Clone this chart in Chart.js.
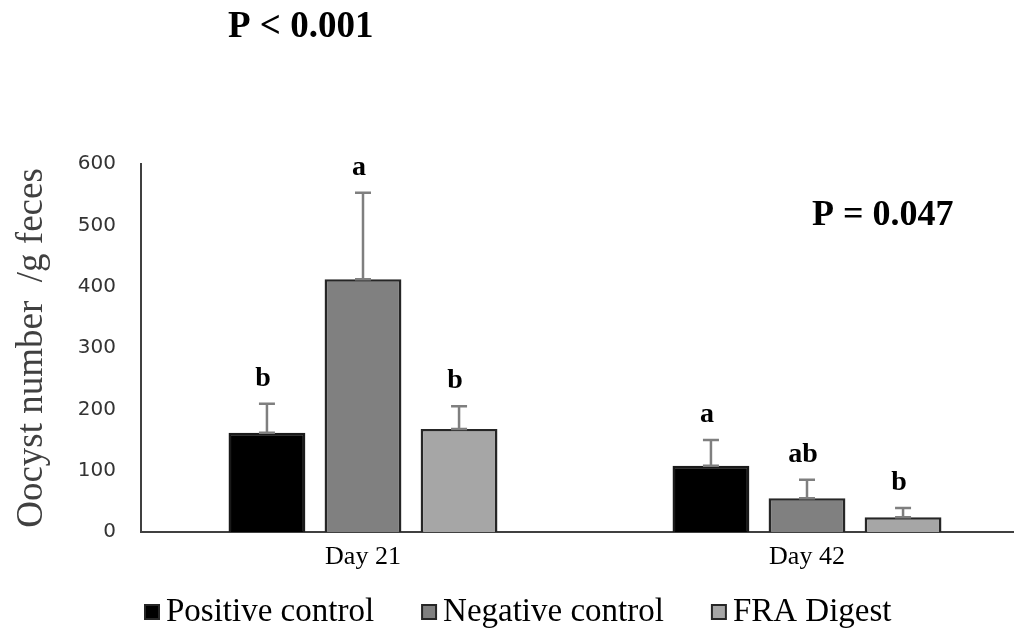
<!DOCTYPE html>
<html>
<head>
<meta charset="utf-8">
<script src="https://cdn.jsdelivr.net/npm/chart.js@4.4.1/dist/chart.umd.min.js"></script>
<style>
  html, body { margin: 0; padding: 0; overflow: hidden; background: #fff; }
  #wrap { width: 1029px; height: 628px; position: relative; }
</style>
</head>
<body>
<div id="wrap"><canvas id="grafica"></canvas></div>
<script>
// datos
const dias = ['Day 21', 'Day 42'];
const positivo = [162, 108];
const negativo = [412, 55];
const fra = [168, 24];
const errPositivo = [47, 42];
const errNegativo = [141, 30];
const errFra = [37, 15];
const letrasPositivo = ['b', 'a'];
const letrasNegativo = ['a', 'ab'];
const letrasFra = ['b', 'b'];
const yTicks = [0, 100, 200, 300, 400, 500, 600];

const errores = [errPositivo, errNegativo, errFra];
const letras = [letrasPositivo, letrasNegativo, letrasFra];

// barras de error + letras de significancia
const erroresPlugin = {
    id: 'errores',
    afterDatasetsDraw(chart) {
        const ctx = chart.ctx;
        const yScale = chart.scales.y;
        ctx.save();
        chart.data.datasets.forEach((ds, i) => {
            const meta = chart.getDatasetMeta(i);
            meta.data.forEach((bar, j) => {
                const v = ds.data[j];
                const yv = yScale.getPixelForValue(v);
                const yt = yScale.getPixelForValue(v + errores[i][j]);
                ctx.strokeStyle = '#7f7f7f';
                ctx.lineWidth = 2.5;
                ctx.beginPath();
                ctx.moveTo(bar.x, yv);
                ctx.lineTo(bar.x, yt);
                ctx.moveTo(bar.x - 8, yt);
                ctx.lineTo(bar.x + 8, yt);
                ctx.moveTo(bar.x - 8, yv);
                ctx.lineTo(bar.x + 8, yv);
                ctx.stroke();

                ctx.fillStyle = '#000';
                ctx.font = 'bold 28px "Liberation Serif"';
                ctx.textAlign = 'center';
                ctx.textBaseline = 'alphabetic';
                ctx.fillText(letras[i][j], bar.x - 4, yt - 18);
            });
        });
        ctx.restore();
    }
};

// textos de P y leyenda abajo
const textosPlugin = {
    id: 'textos',
    afterDraw(chart) {
        const ctx = chart.ctx;
        ctx.save();
        ctx.fillStyle = '#000';
        ctx.textAlign = 'left';
        ctx.textBaseline = 'alphabetic';
        ctx.font = 'bold 37px "Liberation Serif"';
        ctx.fillText('P < 0.001', 228, 37);
        ctx.font = 'bold 36px "Liberation Serif"';
        ctx.fillText('P = 0.047', 812, 225);

        // leyenda
        ctx.font = '33px "Liberation Serif"';
        ctx.textBaseline = 'middle';
        let x = 145;
        const y = 612;
        chart.data.datasets.forEach(ds => {
            ctx.fillStyle = ds.backgroundColor;
            ctx.fillRect(x, y - 7, 14, 14);
            ctx.strokeStyle = '#262626';
            ctx.lineWidth = 2;
            ctx.strokeRect(x, y - 7, 14, 14);
            ctx.fillStyle = '#000';
            ctx.fillText(ds.label, x + 21, y);
            x += 21 + ctx.measureText(ds.label).width + 48;
        });
        ctx.restore();
    }
};

const ctx = document.getElementById('grafica').getContext('2d');
new Chart(ctx, {
    type: 'bar',
    data: {
        labels: dias,
        datasets: [
            { label: 'Positive control', data: positivo, backgroundColor: '#000000', borderColor: '#1a1a1a', borderWidth: 2.5 },
            { label: 'Negative control', data: negativo, backgroundColor: '#808080', borderColor: '#262626', borderWidth: 2.5 },
            { label: 'FRA Digest', data: fra, backgroundColor: '#a6a6a6', borderColor: '#262626', borderWidth: 2.5 }
        ]
    },
    options: {
        responsive: true,
        maintainAspectRatio: false,
        animation: false,
        categoryPercentage: 0.649,
        barPercentage: 0.8,
        layout: { padding: { top: 164, left: 10, right: 0, bottom: 50 } },
        plugins: {
            legend: { display: false },
            tooltip: { enabled: false }
        },
        scales: {
            x: {
                grid: { display: false, drawTicks: false },
                border: { color: '#404040', width: 2 },
                ticks: { color: '#000', font: { family: 'Liberation Serif', size: 26 }, padding: 10 },
                afterFit(scale) { scale.height = 46; }
            },
            y: {
                min: 0,
                max: 600,
                afterBuildTicks(scale) { scale.ticks = yTicks.map(v => ({ value: v })); },
                grid: { display: false, drawTicks: false },
                border: { color: '#404040', width: 2 },
                ticks: { color: '#333', font: { family: 'DejaVu Sans', size: 20 }, padding: 25 },
                title: {
                    display: true,
                    text: 'Oocyst number  /g feces',
                    color: '#404040',
                    font: { family: 'Liberation Serif', size: 37 },
                    padding: { top: 0, bottom: 0 }
                },
                afterFit(scale) { scale.width = 131; }
            }
        }
    },
    plugins: [erroresPlugin, textosPlugin]
});
</script>
</body>
</html>
